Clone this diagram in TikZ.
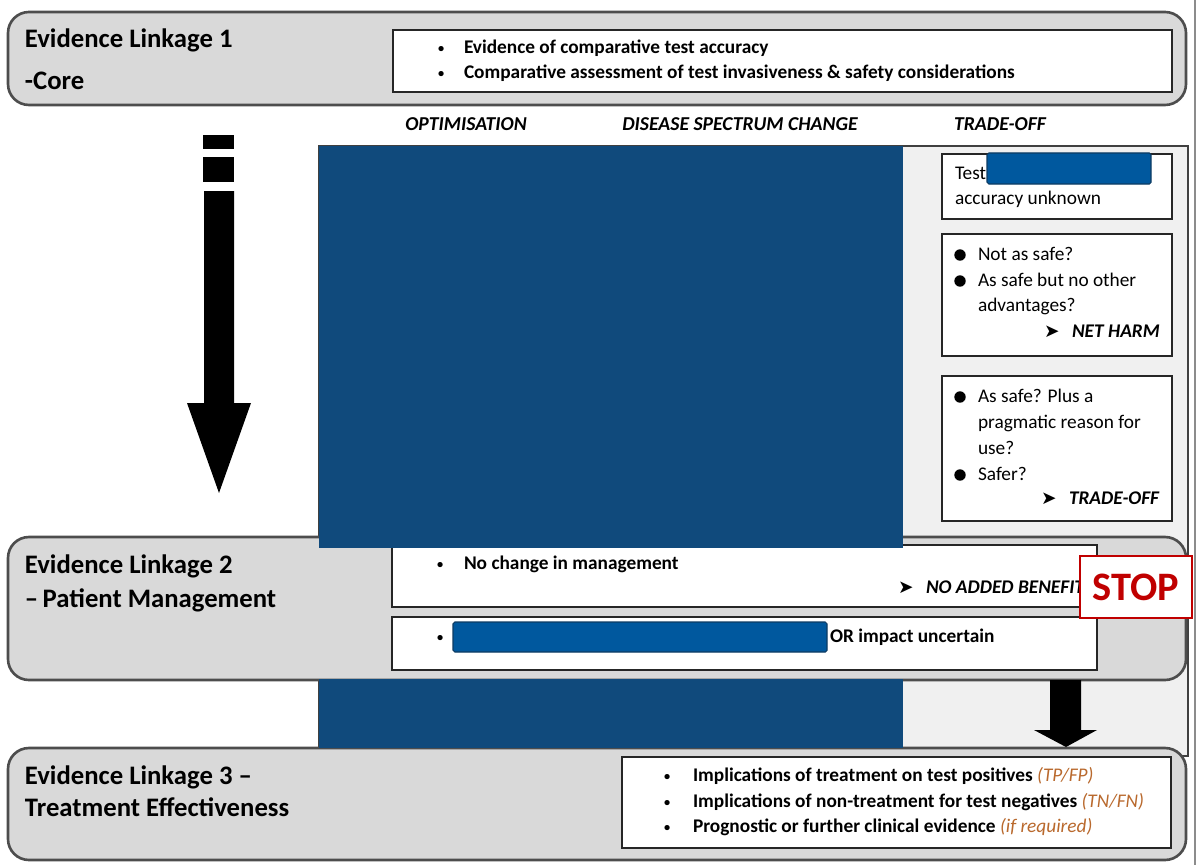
\documentclass[tikz,border=0pt]{standalone}
\usepackage{fontspec}
\setmainfont{Carlito}
\newfontfamily\symfont{DejaVu Sans}
\definecolor{boxgrey}{HTML}{D9D9D9}
\definecolor{panelgrey}{HTML}{F0F0F0}
\definecolor{edgegrey}{HTML}{4D4D4D}
\definecolor{maskblue}{HTML}{104A7C}
\definecolor{tagblue}{HTML}{00589E}
\definecolor{stopred}{HTML}{C00000}
\definecolor{noteorange}{RGB}{185,105,45}
\newcommand\notetext[1]{{\mdseries\itshape\color{noteorange}#1}}
\begin{document}
\begin{tikzpicture}[x=0.02cm,y=-0.02cm,
  every node/.style={inner sep=0pt,outer sep=0pt},
  linkbox/.style={draw=edgegrey,line width=1.5pt,fill=boxgrey,rounded corners=0.42cm},
  inbox/.style={draw=black!85,line width=1pt,fill=white},
  panel/.style={draw=black!75,line width=0.9pt,fill=panelgrey},
  title/.style={anchor=base west,font=\fontsize{15.2}{17}\selectfont\bfseries},
  body/.style={anchor=base west,font=\fontsize{11}{13}\selectfont\bfseries},
  plain/.style={anchor=base west,font=\fontsize{11}{13}\selectfont},
  dot/.style={anchor=base west,font=\fontsize{7}{9}\selectfont\bfseries},
  bigdot/.style={circle,fill=black,minimum size=6.5pt},
  head/.style={anchor=base,font=\fontsize{11.2}{13}\selectfont\bfseries\itshape},
  verdict/.style={anchor=base west,font=\fontsize{11}{13}\selectfont\bfseries\itshape},
  pointer/.style={anchor=base west,font=\fontsize{10.5}{12}\symfont},
  mask/.style={fill=maskblue},
  tag/.style={fill=tagblue,draw=maskblue!80!black,line width=0.6pt,rounded corners=1pt},
  bigarrow/.style={fill=black}
]
\useasboundingbox (0,0) rectangle (1197,865);

% frame edge on the right
\draw[black!45,line width=0.6pt] (1195,0) -- (1195,865);

% trade-off panel behind the middle section
\draw[panel] (319,146) rectangle (1188,756);

% trade-off boxes
\draw[inbox] (942,154) rectangle (1172,219);
\node[plain] (ta) at (955,179) {Test};
\node[plain] (tb) at (955,204) {accuracy unknown};

\draw[inbox] (942,234) rectangle (1172,356);
\node[bigdot] (b1) at (960,255) {};
\node[plain] (nb1) at (978,260) {Not as safe?};
\node[bigdot] (b2) at (960,281) {};
\node[plain] (nb2) at (978,286) {As safe but no other};
\node[plain] (nb3) at (978,311) {advantages?};
\node[pointer] (pa) at (1044,337) {➤};
\node[verdict] (harm) at (1072,337) {NET HARM};

\draw[inbox] (942,376) rectangle (1172,521);
\node[bigdot] (c1) at (960,397) {};
\node[plain] (nc1) at (978,402) {As safe? Plus a};
\node[plain] (nc2) at (978,428) {pragmatic reason for};
\node[plain] (nc3) at (978,454) {use?};
\node[bigdot] (c2) at (960,475) {};
\node[plain] (nc4) at (978,480) {Safer?};
\node[pointer] (pb) at (1041,504) {➤};
\node[verdict] (trade) at (1069,504) {TRADE-OFF};

% Evidence Linkage 1
\draw[linkbox] (8,12) rectangle (1186,105);
\node[title] (l1a) at (25,48) {Evidence Linkage 1};
\node[title] (l1b) at (25,90) {-Core};
\draw[inbox] (393,30) rectangle (1172,92);
\node[dot] at (438,53) {•};
\node[body] (e1) at (464,54) {Evidence of comparative test accuracy};
\node[dot] at (438,78) {•};
\node[body] (e2) at (464,79) {Comparative assessment of test invasiveness \& safety considerations};

% column headings
\node[head] (h1) at (466,131) {OPTIMISATION};
\node[head] (h2) at (740,131) {DISEASE SPECTRUM CHANGE};
\node[head] (h3) at (1000,131) {TRADE-OFF};

% Evidence Linkage 2
\draw[linkbox] (8,537) rectangle (1186,680);
\node[title] (l2a) at (25,573) {Evidence Linkage 2};
\node[title] (l2b) at (25,607) {–\,Patient Management};
\draw[inbox] (392,545) rectangle (1097,607);
\node[dot] at (437,568) {•};
\node[plain] (m1) at (464,569) {\bfseries No change in management};
\node[pointer] (pc) at (898,593) {➤};
\node[verdict] (benefit) at (926,593) {NO ADDED BENEFIT};
\draw[inbox] (392,617) rectangle (1097,670);
\node[dot] at (437,641) {•};
\node[plain] (m2) at (830,642) {\bfseries OR impact uncertain};

% Evidence Linkage 3
\draw[linkbox] (8,748) rectangle (1186,860);
\node[title] (l3a) at (25,784) {Evidence Linkage 3 –};
\node[title] (l3b) at (25,816) {Treatment Effectiveness};
\draw[inbox] (622,757) rectangle (1171,848);
\node[dot] at (664,780) {•};
\node[body] (t1) at (693,781) {Implications of treatment on test positives \notetext{(TP/FP)}};
\node[dot] at (664,806) {•};
\node[body] (t2) at (693,807) {Implications of non-treatment for test negatives \notetext{(TN/FN)}};
\node[dot] at (664,831) {•};
\node[body] (t3) at (693,832) {Prognostic or further clinical evidence \notetext{(if required)}};

% covered areas
\fill[mask] (319,146) rectangle (903,548);
\fill[mask] (319,679) rectangle (903,748);
\draw[tag] (987,153) rectangle (1151,184);
\draw[tag] (453,622) rectangle (827,652);

% stop sign
\node[draw=stopred,line width=0.8pt,fill=white,minimum width=112*0.02cm,minimum height=62*0.02cm,
      text=stopred,font=\fontsize{23}{25}\selectfont\bfseries] (stop) at (1136,587) {STOP};

% large downward arrow
\fill[bigarrow] (203,135) rectangle (234,149);
\fill[bigarrow] (203,157) rectangle (234,182);
\fill[bigarrow] (204,191) -- (234,191) -- (234,403) -- (251,403) -- (219,493)
  -- (187,403) -- (204,403) -- cycle;

% short arrow from linkage 2 to linkage 3
\fill[bigarrow] (1050,680) -- (1081,680) -- (1081,730) -- (1097,730) -- (1066,747)
  -- (1034,730) -- (1050,730) -- cycle;
\end{tikzpicture}
\end{document}
